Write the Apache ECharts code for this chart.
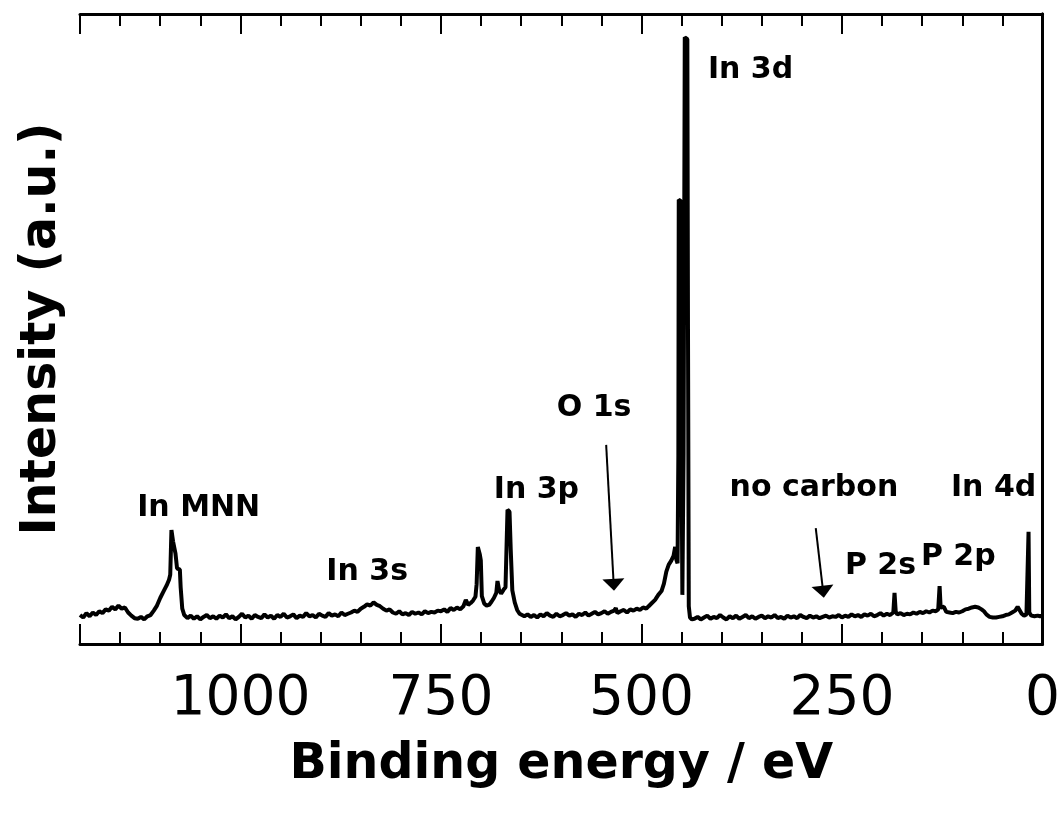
<!DOCTYPE html>
<html>
<head>
<meta charset="utf-8">
<title>XPS survey</title>
<script src="https://cdn.jsdelivr.net/npm/echarts@6/dist/echarts.min.js"></script>
<style>
  html, body { margin: 0; padding: 0; background: #fff; }
  #chart { width: 1063px; height: 821px; }
</style>
</head>
<body>
<div id="chart"></div>
<script>
// binding energy (eV) and intensity (a.u.)
var energy = [
  1200, 1196, 1192, 1188, 1184, 1180, 1176, 1172, 1168, 1164, 1160, 1156, 1152, 1148, 1144, 1140,
  1136, 1132, 1128, 1124, 1120, 1116, 1112, 1108, 1104, 1100, 1096, 1092, 1089, 1087.5, 1086, 1084,
  1081, 1079, 1075.5, 1074.5, 1072.5, 1070, 1066, 1062,
  1058, 1054, 1050, 1046, 1042, 1038, 1034, 1030, 1026, 1022, 1018, 1014, 1010, 1006, 1002, 998,
  994, 990, 986, 982, 978, 974, 970, 966, 962, 958, 954, 950, 946, 942, 938, 934, 930, 926, 922,
  918, 914, 910, 906, 902, 898, 894, 890, 886, 882, 878, 874, 870, 866, 862, 858, 854, 850, 846,
  842, 838, 834, 830, 826, 822, 818, 814, 810, 806, 802, 798, 794, 790, 786, 782, 778, 774, 770,
  766, 762, 758, 754,
  750, 746, 742, 738, 734, 730, 726, 722, 719, 716, 713, 710, 707, 705.5, 704, 701.5, 700.3, 699,
  696, 693, 690, 687, 684, 681, 679.5, 677.5, 675, 672, 669.5, 668.5, 667, 664.5, 663, 661, 658,
  655, 652, 649, 646,
  642, 638, 634, 630, 626, 622, 618, 614, 610, 606, 602, 598, 594, 590, 586, 582, 578, 574, 570,
  566, 562, 558, 554, 550, 546, 542, 538, 534, 532, 530, 526, 522, 518, 514, 510, 506,
  502, 498, 494, 491, 487, 483, 479, 475, 472, 469, 466, 463, 460, 458, 456.5, 455, 454, 453.5, 450.8,
  450, 449, 447.5, 446, 442.8, 442, 441, 439.5, 437,
  434, 430, 426, 422, 418, 414, 410, 406, 402, 398, 394, 390, 386, 382, 378, 374, 370, 366, 362,
  358, 354, 350, 346, 342, 338, 334, 330, 326, 322, 318, 314, 310, 306, 302, 298, 294, 290, 286,
  282, 278, 274, 270, 266, 262, 258, 254, 250, 246, 242, 238, 234, 230, 226, 222, 218, 214, 210,
  206, 202, 198, 194, 190, 186, 184.5, 183, 181, 177, 173, 169, 165, 161, 157, 153, 149, 145, 141,
  137, 133, 130, 128.3, 127, 125, 123, 120, 116, 112, 108, 104, 100, 96, 92, 88, 84, 80, 76, 73,
  70, 66, 62, 58, 54, 50, 46, 42, 38, 34, 31, 29, 26, 23, 20, 18.2, 17.4, 16.5, 14, 10, 6, 3, 0
];
var intensity = [
  4.6, 4.2, 4.9, 4.4, 5.0, 4.6, 5.2, 4.9, 5.5, 5.3, 5.9, 5.5, 6.1, 5.6, 5.8, 5.0,
  4.5, 4.1, 4.0, 4.3, 3.9, 4.4, 4.6, 5.3, 6.1, 7.3, 8.3, 9.3, 10.2, 11.0, 18.1, 16.3,
  14.4, 12.0, 11.8, 9.0, 5.6, 4.6, 4.1, 4.5,
  4.0, 4.4, 3.9, 4.3, 4.6, 4.1, 4.4, 4.0, 4.5, 4.2, 4.7, 4.1, 4.4, 3.9, 4.3, 4.8,
  4.2, 4.5, 4.0, 4.6, 4.3, 4.1, 4.7, 4.2, 4.5, 4.0, 4.6, 4.3, 4.8, 4.2, 4.4, 4.7, 4.1, 4.5, 4.3,
  4.9, 4.4, 4.6, 4.2, 4.8, 4.5, 4.3, 4.9, 4.5, 4.7, 4.4, 5.0, 4.6, 4.8, 5.0, 5.3, 5.1, 5.6, 5.9,
  6.3, 6.1, 6.6, 6.2, 6.0, 5.6, 5.3, 5.5, 5.0, 4.8, 5.2, 4.7, 4.9, 4.6, 5.1, 4.8, 5.0, 4.7, 5.2,
  4.9, 5.1, 5.0, 5.3,
  5.2, 5.5, 5.1, 5.7, 5.4, 5.8, 5.5, 6.0, 7.0, 6.2, 6.5, 6.9, 7.5, 9.5, 15.4, 14.2, 13.3, 7.6,
  6.4, 6.1, 6.2, 6.7, 7.3, 8.1, 10.0, 8.6, 8.0, 8.6, 9.0, 14.0, 21.3, 21.0, 15.0, 8.5, 6.6,
  5.4, 4.8, 4.6, 4.4,
  4.7, 4.3, 4.6, 4.2, 4.7, 4.4, 4.9, 4.5, 4.3, 4.8, 4.4, 4.6, 4.9, 4.5, 4.7, 4.3, 4.8, 4.6, 5.0,
  4.5, 4.8, 5.1, 4.7, 4.9, 5.2, 4.8, 5.1, 5.3, 5.7, 4.9, 5.2, 5.4, 5.0, 5.5, 5.3, 5.6,
  5.4, 5.8, 5.6, 6.0, 6.5, 7.0, 7.8, 8.4, 9.6, 11.5, 12.6, 13.2, 14.0, 15.4, 13.4, 12.8, 30.0, 70.5, 70.3,
  30.0, 7.8, 30.0, 96.3, 96.0, 50.0, 6.0, 4.2, 3.9,
  4.0, 4.3, 3.9, 4.2, 4.5, 4.0, 4.3, 4.1, 4.6, 4.2, 3.9, 4.4, 4.1, 4.5, 4.0, 4.3, 4.6, 4.1, 4.4,
  4.0, 4.3, 4.5, 4.1, 4.4, 4.2, 4.6, 4.1, 4.3, 4.0, 4.5, 4.2, 4.4, 4.1, 4.6, 4.3, 4.1, 4.5, 4.2,
  4.4, 4.1, 4.3, 4.5, 4.2, 4.4, 4.3, 4.6, 4.2, 4.5, 4.3, 4.7, 4.4, 4.6, 4.3, 4.7, 4.5, 4.8, 4.4,
  4.6, 4.9, 4.5, 4.8, 4.6, 5.0, 8.1, 5.1, 4.7, 4.9, 4.6, 4.8, 4.7, 5.0, 4.8, 5.1, 4.9, 5.2, 5.0,
  5.3, 5.2, 5.5, 9.2, 5.8, 6.0, 5.9, 5.1, 5.0, 4.9, 5.1, 5.0, 5.2, 5.5, 5.6, 5.8, 5.9, 5.8, 5.5, 5.2,
  4.7, 4.3, 4.2, 4.2, 4.3, 4.4, 4.6, 4.7, 5.0, 5.3, 5.9, 5.6, 4.8, 4.5, 4.7, 5.0, 17.8, 5.0, 4.5, 4.4, 4.5, 4.4, 4.5
];

// peak annotations (text centre in data units)
var peakNames = ['In MNN', 'In 3s', 'In 3p', 'O 1s', 'In 3d', 'no carbon', 'In 4d', 'P 2s', 'P 2p'];
var peakLabelX = [1052, 842, 631, 559, 364, 285, 61, 202, 105];
var peakLabelY = [21.6, 11.4, 24.4, 37.5, 91.1, 24.8, 24.8, 12.4, 13.8];

// arrows: [start eV, start y, end eV, end y]
var arrows = [
  [544, 31.6, 534.6, 9.4],   // O 1s
  [282.7, 18.4, 273.5, 8.3]  // no carbon
];

var tickLabels = [0, 250, 500, 750, 1000];

var chart = echarts.init(document.getElementById('chart'));

var spectrum = energy.map(function (e, i) { return [e, intensity[i]]; });
var labels = peakNames.map(function (n, i) {
  return { name: n, value: [peakLabelX[i], peakLabelY[i]] };
});

// shared x axis pieces
function xAx(pos, interval, len, withLine, withLabel) {
  return {
    type: 'value',
    position: pos,
    min: 0,
    max: 1200,
    inverse: true,
    interval: interval,
    splitLine: { show: false },
    axisLine: { show: withLine, onZero: false, lineStyle: { color: '#000', width: 3 } },
    axisTick: { show: true, inside: true, length: len, lineStyle: { color: '#000', width: 2 } },
    axisLabel: withLabel ? {
      show: true,
      margin: 28,
      color: '#000',
      fontFamily: 'DejaVu Sans',
      fontSize: 55,
      formatter: function (v) { return tickLabels.indexOf(v) >= 0 ? String(v) : ''; }
    } : { show: false }
  };
}

var xAxes = [
  xAx('bottom', 50, 12, true, true),
  xAx('bottom', 250, 20, false, false),
  xAx('top', 50, 12, true, false),
  xAx('top', 250, 20, false, false)
];
xAxes[0].name = 'Binding energy / eV';
xAxes[0].nameLocation = 'middle';
xAxes[0].nameGap = 97;
xAxes[0].nameTextStyle = { color: '#000', fontFamily: 'DejaVu Sans', fontWeight: 'bold', fontSize: 49 };

var option = {
  backgroundColor: '#fff',
  animation: false,
  grid: { left: 80, right: 19, top: 14, bottom: 177 },
  xAxis: xAxes,
  yAxis: [{
    type: 'value',
    min: 0,
    max: 100,
    position: 'left',
    name: 'Intensity (a.u.)',
    nameLocation: 'middle',
    nameGap: 13,
    nameTextStyle: { color: '#000', fontFamily: 'DejaVu Sans', fontWeight: 'bold', fontSize: 49 },
    splitLine: { show: false },
    axisTick: { show: false },
    axisLabel: { show: false },
    axisLine: { show: true, lineStyle: { color: '#000', width: 3 } }
  }, {
    type: 'value',
    min: 0,
    max: 100,
    position: 'right',
    splitLine: { show: false },
    axisTick: { show: false },
    axisLabel: { show: false },
    axisLine: { show: true, lineStyle: { color: '#000', width: 3 } }
  }],
  series: [{
    type: 'line',
    data: spectrum,
    showSymbol: false,
    symbol: 'none',
    lineStyle: { color: '#000', width: 4, join: 'bevel' },
    silent: true,
    markLine: {
      silent: true,
      symbol: ['none', 'triangle'],
      symbolSize: [22, 12],
      label: { show: false },
      lineStyle: { color: '#000', width: 2, type: 'solid' },
      data: arrows.map(function (a) {
        return [{ coord: [a[0], a[1]] }, { coord: [a[2], a[3]] }];
      })
    }
  }, {
    type: 'scatter',
    data: labels,
    symbolSize: 1,
    itemStyle: { color: 'rgba(0,0,0,0)', opacity: 1 },
    silent: true,
    label: {
      show: true,
      position: 'inside',
      formatter: '{b}',
      color: '#000',
      opacity: 1,
      fontFamily: 'DejaVu Sans',
      fontWeight: 'bold',
      fontSize: 30
    }
  }]
};

chart.setOption(option);
</script>
</body>
</html>
